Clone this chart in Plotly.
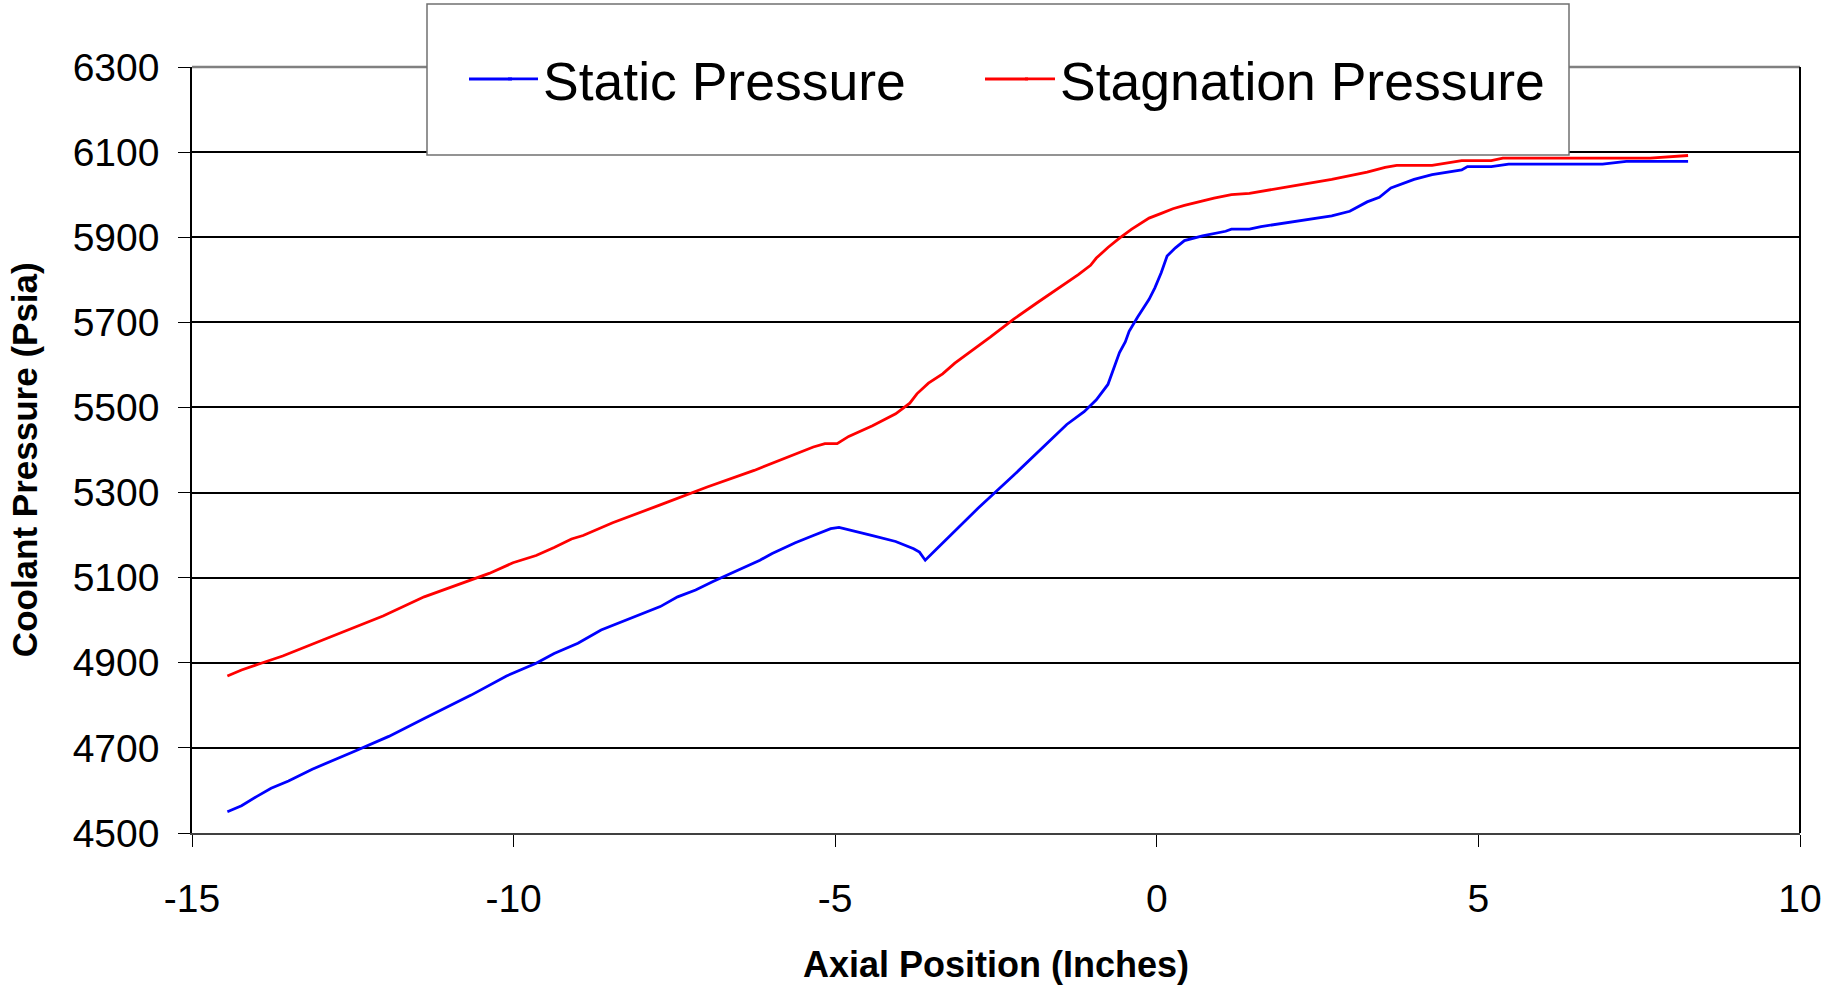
import plotly.graph_objects as go

# Axial position (inches) and coolant pressure (psia) along the channel
static_x = [-14.45, -14.23, -13.99, -13.77, -13.5, -13.13, -12.49, -11.94, -11.39, -10.66,
            -10.11, -9.65, -9.37, -9.0, -8.64, -8.09, -7.72, -7.45, -7.17, -6.9,
            -6.62, -6.17, -5.98, -5.62, -5.34, -5.07, -4.94, -4.79, -4.42, -4.06,
            -3.78, -3.69, -3.60, -3.42, -3.23, -2.78, -2.23, -1.68, -1.40, -1.13,
            -0.94, -0.76, -0.58, -0.49, -0.43, -0.30, -0.12, -0.03, 0.07, 0.16,
            0.29, 0.43, 0.71, 1.07, 1.16, 1.44, 1.62, 2.72, 3.0, 3.27,
            3.46, 3.64, 4.0, 4.28, 4.74, 4.83, 5.2, 5.47, 6.93, 7.3, 8.26]
static_p = [4550, 4564, 4586, 4605, 4622, 4650, 4691, 4727, 4769, 4824,
            4869, 4899, 4922, 4946, 4977, 5010, 5032, 5055, 5071, 5091,
            5110, 5141, 5157, 5182, 5199, 5215, 5218, 5213, 5199, 5185,
            5168, 5160, 5141, 5168, 5196, 5263, 5340, 5421, 5460, 5490,
            5518, 5554, 5629, 5654, 5679, 5712, 5754, 5781, 5817, 5856,
            5875, 5892, 5903, 5914, 5919, 5919, 5925, 5950, 5961, 5983,
            5994, 6016, 6036, 6047, 6058, 6066, 6066, 6072, 6072, 6078, 6078]

stag_x = [-14.45, -14.23, -13.96, -13.59, -12.86, -12.03, -11.39, -10.66, -10.38, -10.01,
          -9.65, -9.37, -9.10, -8.92, -8.46, -7.72, -6.99, -6.26, -5.71, -5.34,
          -5.16, -4.97, -4.79, -4.42, -4.06, -3.84, -3.73, -3.55, -3.33, -3.14,
          -2.59, -2.23, -1.86, -1.49, -1.22, -1.03, -0.94, -0.76, -0.58, -0.39,
          -0.30, -0.12, 0.07, 0.25, 0.43, 0.89, 1.16, 1.44, 2.17, 2.72,
          3.27, 3.55, 3.73, 4.28, 4.74, 5.2, 5.38, 7.67, 8.26]
stag_p = [4869, 4883, 4897, 4916, 4960, 5010, 5055, 5096, 5110, 5135,
          5152, 5171, 5191, 5199, 5229, 5271, 5313, 5352, 5385, 5407,
          5415, 5415, 5432, 5457, 5485, 5510, 5532, 5557, 5579, 5604,
          5665, 5707, 5746, 5784, 5812, 5834, 5851, 5876, 5898, 5919,
          5928, 5945, 5956, 5967, 5975, 5992, 6000, 6003, 6022, 6036,
          6053, 6064, 6069, 6069, 6080, 6080, 6086, 6086, 6092]

x_ticks = [-15, -10, -5, 0, 5, 10]
y_ticks = [4500, 4700, 4900, 5100, 5300, 5500, 5700, 5900, 6100, 6300]

FONT = "Liberation Sans, Arial, sans-serif"
BLUE, RED = "#0000FF", "#FF0000"
LW = 2.8

fig = go.Figure()
fig.add_trace(go.Scatter(x=static_x, y=static_p, mode="lines", name="Static Pressure",
                         line=dict(color=BLUE, width=LW), legend="legend"))
fig.add_trace(go.Scatter(x=stag_x, y=stag_p, mode="lines", name="Stagnation Pressure",
                         line=dict(color=RED, width=LW), legend="legend2"))

W, H = 1848, 985
L, R, T, B = 192, 48, 67, 152
PW, PH = W - L - R, H - T - B


def px(x):
    # horizontal pixel -> paper fraction
    return (x - L) / PW


def py(y):
    # vertical pixel (from top) -> paper fraction
    return 1 - (y - T) / PH


LEG_Y = 79             # legend row centre, px from top
TEXT1, TEXT2 = 543, 1060  # left edges of the legend labels, px


def legend_at(text_left):
    return dict(
        orientation="h",
        x=px(text_left - 40), xanchor="left",
        y=py(LEG_Y), yanchor="middle",
        font=dict(size=53.5, family=FONT),
        bgcolor="rgba(0,0,0,0)", borderwidth=0,
    )


fig.update_layout(
    width=W, height=H,
    margin=dict(l=L, r=R, t=T, b=B, autoexpand=False),
    paper_bgcolor="white", plot_bgcolor="white",
    font=dict(family=FONT, color="black"),
    showlegend=True,
    legend=legend_at(TEXT1),
    legend2=legend_at(TEXT2),
    xaxis=dict(
        range=[-15, 10], tickmode="array", tickvals=x_ticks,
        ticktext=[str(v) for v in x_ticks],
        showgrid=False, zeroline=False, automargin=False,
        showline=True, linecolor="#404040", linewidth=2,
        ticks="outside", ticklen=12, tickwidth=1, tickcolor="black",
        tickfont=dict(size=39, family=FONT), ticklabelstandoff=18,
        title=dict(text="<b>Axial Position (Inches)</b>", font=dict(size=36, family=FONT),
                   standoff=33),
    ),
    yaxis=dict(
        range=[4500, 6300], tickmode="array", tickvals=y_ticks,
        ticktext=[str(v) for v in y_ticks],
        showgrid=True, gridcolor="black", gridwidth=1.5,
        zeroline=False, automargin=False,
        showline=True, linecolor="black", linewidth=1.5,
        ticks="outside", ticklen=12, tickwidth=1, tickcolor="black",
        tickfont=dict(size=39, family=FONT), ticklabelstandoff=11,
        title=dict(text="<b>Coolant Pressure (Psia)</b>&#160;&#160;",
                   font=dict(size=35, family=FONT), standoff=24),
    ),
    shapes=[
        # plot-area frame: grey top edge, black right edge
        dict(type="line", xref="paper", yref="paper", x0=0, x1=1, y0=1, y1=1,
             line=dict(color="#808080", width=2.5), layer="above"),
        dict(type="line", xref="paper", yref="paper", x0=1, x1=1, y0=0, y1=1,
             line=dict(color="black", width=2), layer="above"),
        # legend box
        dict(type="rect", xref="paper", yref="paper",
             x0=px(427), x1=px(1569), y0=py(155), y1=py(4),
             fillcolor="white", line=dict(color="#707070", width=1.5), layer="above"),
        # longer legend line samples
        dict(type="line", xref="paper", yref="paper", x0=px(469), x1=px(512),
             y0=py(LEG_Y), y1=py(LEG_Y), line=dict(color=BLUE, width=LW), layer="above"),
        dict(type="line", xref="paper", yref="paper", x0=px(985), x1=px(1028),
             y0=py(LEG_Y), y1=py(LEG_Y), line=dict(color=RED, width=LW), layer="above"),
    ],
)

fig.write_html("out.html")
